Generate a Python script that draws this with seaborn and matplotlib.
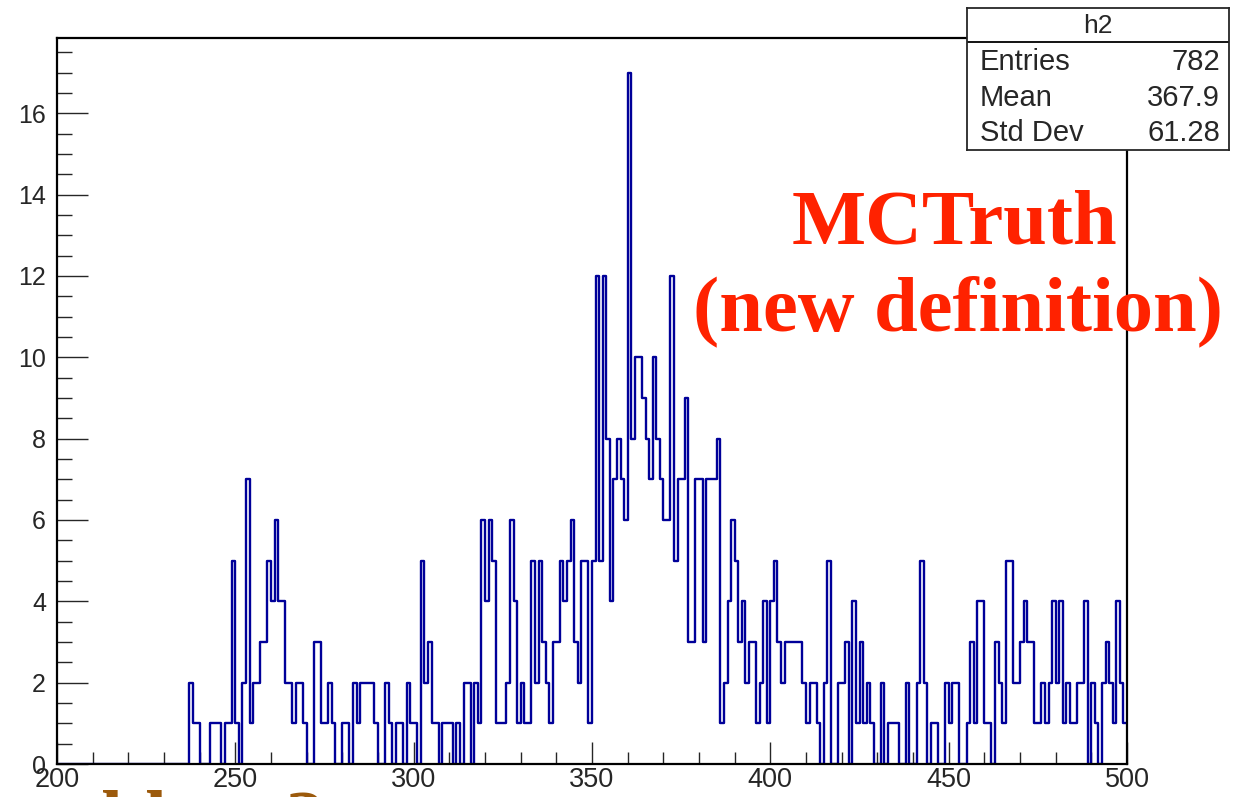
import numpy as np
import pandas as pd
import seaborn as sns
import matplotlib.pyplot as plt
from matplotlib.ticker import MultipleLocator

# histogram h2: 1 unit bins from 200 to 500
BIN_LO = 200
BIN_HI = 500
counts = [
    0, 0, 0, 0, 0, 0, 0, 0, 0, 0,      # 200
    0, 0, 0, 0, 0, 0, 0, 0, 0, 0,      # 210
    0, 0, 0, 0, 0, 0, 0, 0, 0, 0,      # 220
    0, 0, 0, 0, 0, 0, 0, 2, 1, 1,      # 230
    0, 0, 0, 1, 1, 1, 0, 1, 1, 5,      # 240
    1, 0, 2, 7, 1, 2, 2, 3, 3, 5,      # 250
    4, 6, 4, 4, 2, 2, 1, 2, 2, 1,      # 260
    0, 0, 3, 3, 1, 1, 2, 1, 0, 0,      # 270
    1, 1, 0, 2, 1, 2, 2, 2, 2, 1,      # 280
    0, 0, 2, 1, 0, 1, 1, 0, 2, 1,      # 290
    1, 0, 5, 2, 3, 1, 1, 0, 1, 1,      # 300
    1, 0, 1, 0, 2, 2, 0, 2, 1, 6,      # 310
    4, 6, 5, 1, 1, 1, 2, 6, 4, 1,      # 320
    2, 1, 1, 5, 2, 5, 3, 2, 1, 3,      # 330
    3, 5, 4, 5, 6, 3, 2, 5, 5, 1,      # 340
    5, 12, 5, 12, 8, 4, 7, 8, 7, 6,    # 350
    17, 8, 10, 10, 9, 8, 7, 10, 8, 7,  # 360
    6, 6, 12, 5, 7, 7, 9, 3, 3, 7,     # 370
    7, 3, 7, 7, 7, 8, 1, 2, 4, 6,      # 380
    5, 3, 4, 2, 3, 3, 1, 2, 4, 1,      # 390
    4, 5, 3, 2, 3, 3, 3, 3, 3, 2,      # 400
    1, 2, 2, 1, 0, 2, 5, 0, 0, 2,      # 410
    2, 3, 0, 4, 1, 3, 1, 2, 1, 0,      # 420
    0, 2, 0, 1, 1, 1, 0, 0, 2, 0,      # 430
    0, 2, 5, 2, 0, 1, 1, 0, 0, 2,      # 440
    1, 2, 2, 0, 0, 1, 3, 1, 4, 4,      # 450
    1, 1, 0, 3, 2, 1, 5, 5, 2, 2,      # 460
    3, 4, 3, 3, 1, 1, 2, 1, 2, 4,      # 470
    2, 4, 1, 2, 1, 1, 2, 2, 4, 0,      # 480
    2, 1, 0, 2, 3, 2, 1, 4, 2, 1,      # 490
]

stat_names = ["Entries", "Mean", "Std Dev"]
stat_values = ["782", "367.9", "61.28"]
hist_name = "h2"

edges = list(range(BIN_LO, BIN_HI + 1))
df = pd.DataFrame({"x": np.arange(BIN_LO, BIN_HI) + 0.5, "n": counts})

sns.set_style("ticks")
plt.rcParams["font.family"] = ["Liberation Sans", "DejaVu Sans"]

W, H = 1247, 797
fig = plt.figure(figsize=(W / 100, H / 100), dpi=100)
ax = fig.add_axes([57 / W, 33 / H, 1070 / W, 726 / H])

sns.histplot(x=df["x"].values, weights=df["n"].values, bins=edges, element="step",
             fill=False, color="#000099", linewidth=1.7, ax=ax)

ax.set_xlim(BIN_LO, BIN_HI)
ax.set_ylim(0, 17.85)
ax.set_xlabel("")
ax.set_ylabel("")
ax.xaxis.set_major_locator(MultipleLocator(50))
ax.xaxis.set_minor_locator(MultipleLocator(10))
ax.yaxis.set_major_locator(MultipleLocator(2))
ax.yaxis.set_minor_locator(MultipleLocator(0.5))
ax.tick_params(axis="x", which="major", direction="in", length=16, width=1,
               labelsize=19.5, pad=2, top=False)
ax.tick_params(axis="x", which="minor", direction="in", length=8.3, width=1, top=False)
ax.tick_params(axis="y", which="major", direction="in", length=22, width=1,
               labelsize=18, pad=8, right=False)
ax.tick_params(axis="y", which="minor", direction="in", length=11, width=1, right=False)
for s in ax.spines.values():
    s.set_visible(True)
    s.set_linewidth(1.6)
    s.set_color("black")

# stats box
bx = fig.add_axes([967 / W, 1 - 150 / H, 262 / W, 142 / H])
bx.set_xlim(0, 1)
bx.set_ylim(0, 1)
bx.set_xticks([])
bx.set_yticks([])
for s in bx.spines.values():
    s.set_linewidth(1.3)
bx.axhline((150 - 42) / 142, color="black", linewidth=1.3)
bx.text(0.5, (150 - 26) / 142, hist_name, ha="center", va="center", fontsize=19)
row_y = [62, 98, 133]
for name, val, yy in zip(stat_names, stat_values, row_y):
    bx.text(13 / 262, (150 - yy) / 142, name, ha="left", va="center", fontsize=21)
    bx.text(1 - 9 / 262, (150 - yy) / 142, val, ha="right", va="center", fontsize=21)

serif = ["Liberation Serif", "DejaVu Serif"]
red = "#ff2200"
fig.text(955 / W, 1 - 243 / H, "MCTruth", ha="center", va="baseline", color=red,
         fontsize=56.5, fontweight="bold", family=serif)
fig.text(958 / W, 1 - 330 / H, "(new definition)", ha="center", va="baseline", color=red,
         fontsize=56.5, fontweight="bold", family=serif)
# slide text running off the bottom edge
fig.text(102 / W, -47 / H, "blem ?", ha="left", va="baseline", color="#9c5a0c",
         fontsize=56, fontweight="bold", family=serif)

fig.savefig("out.png", dpi=100)
